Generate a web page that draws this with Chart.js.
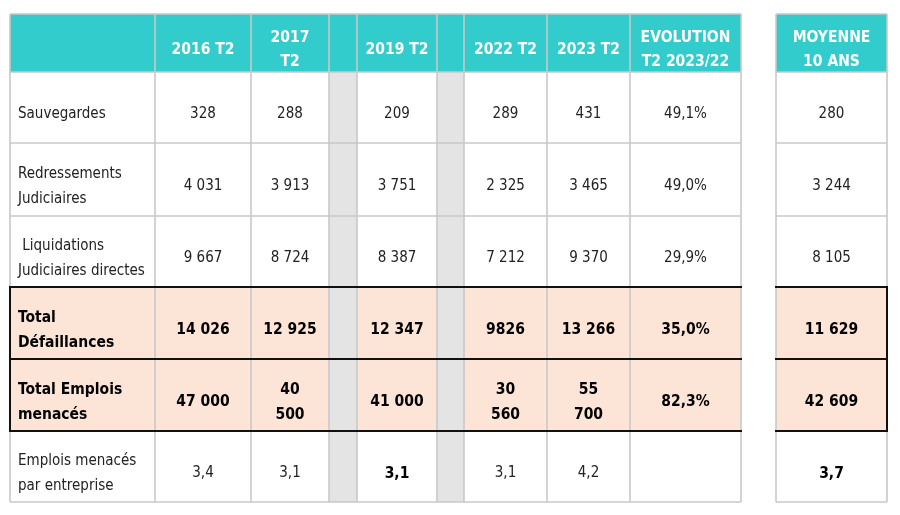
<!DOCTYPE html>
<html>
<head>
<meta charset="utf-8">
<script src="https://cdn.jsdelivr.net/npm/chart.js@4"></script>
<style>
  body { margin: 0; background: #fff; }
  canvas { display: block; }
</style>
</head>
<body>
<canvas id="table-chart" width="900" height="515"></canvas>
<script>
// column headers (the gap columns have no header)
var periods = ['2016 T2', '2017\nT2', '2019 T2', '2022 T2', '2023 T2'];
var evolutionHeader = 'EVOLUTION\nT2 2023/22';
var averageHeader = 'MOYENNE\n10 ANS';

var rowLabels = [
  'Sauvegardes',
  'Redressements\nJudiciaires',
  ' Liquidations\nJudiciaires directes',
  'Total\nDéfaillances',
  'Total Emplois\nmenacés',
  'Emplois menacés\npar entreprise'
];

// values per row, one per period
var sauvegardes = ['328', '288', '209', '289', '431'];
var redressements = ['4 031', '3 913', '3 751', '2 325', '3 465'];
var liquidations = ['9 667', '8 724', '8 387', '7 212', '9 370'];
var totalDefaillances = ['14 026', '12 925', '12 347', '9826', '13 266'];
var totalEmplois = ['47 000', '40\n500', '41 000', '30\n560', '55\n700'];
var emploisParEntreprise = ['3,4', '3,1', '3,1', '3,1', '4,2'];

var evolution = ['49,1%', '49,0%', '29,9%', '35,0%', '82,3%', ''];
var moyenne = ['280', '3 244', '8 105', '11 629', '42 609', '3,7'];

var rowValues = [sauvegardes, redressements, liquidations, totalDefaillances, totalEmplois, emploisParEntreprise];

// layout (in scale units, same as pixels here)
var colEdges = [10, 155, 251, 329, 357, 437, 464, 547, 630, 741];
var gapCols = [3, 5];               // index of the grey spacer columns
var periodCols = [1, 2, 4, 6, 7];   // where the periods go
var evoCol = 8;
var avgEdges = [776, 887];
var rowEdges = [14, 72, 143, 216, 287, 359, 431, 502];
var pinkRows = [3, 4];
var boldCells = { '5-2': true, '5-avg': true };

var TEAL = '#33cccc';
var PINK = '#fce4d6';
var GAP = '#e5e4e5';
var GRID = '#c8c8c8';
var FONT = '"DejaVu Sans Condensed", "DejaVu Sans", Verdana, sans-serif';
var REG = 15, BOLD = 15.5;

var tablePlugin = {
  id: 'tablePlugin',
  afterDraw: function(chart) {
    var ctx = chart.ctx;
    var sx = chart.scales.x, sy = chart.scales.y;
    var X = function(v) { return sx.getPixelForValue(v); };
    var Y = function(v) { return sy.getPixelForValue(v); };

    function fillCell(x0, x1, y0, y1, color) {
      ctx.fillStyle = color;
      ctx.fillRect(X(x0), Y(y0), X(x1) - X(x0), Y(y1) - Y(y0));
    }
    function line(x0, y0, x1, y1, color, w) {
      ctx.strokeStyle = color;
      ctx.lineWidth = w;
      ctx.beginPath();
      ctx.moveTo(X(x0), Y(y0));
      ctx.lineTo(X(x1), Y(y1));
      ctx.stroke();
    }
    function text(str, x0, x1, y0, y1, opts) {
      var lines = str.split('\n');
      var lh = opts.lh || 25;
      ctx.font = (opts.bold ? 'bold ' : '') + opts.size + 'px ' + FONT;
      ctx.fillStyle = opts.color || '#1e1e1e';
      ctx.textBaseline = 'middle';
      ctx.textAlign = opts.align || 'center';
      var cy = (Y(y0) + Y(y1)) / 2 + 7 - (lines.length - 1) * lh / 2;
      var tx = opts.align === 'left' ? X(x0) + 8 : (X(x0) + X(x1)) / 2;
      lines.forEach(function(l, i) { ctx.fillText(l, tx, cy + i * lh); });
    }

    var nRows = rowEdges.length - 1;
    // fills
    for (var r = 0; r < nRows; r++) {
      var y0 = rowEdges[r], y1 = rowEdges[r + 1];
      for (var c = 0; c < colEdges.length - 1; c++) {
        var col;
        if (r === 0) col = TEAL;
        else if (gapCols.indexOf(c) >= 0) col = GAP;
        else if (pinkRows.indexOf(r - 1) >= 0) col = PINK;
        else col = '#fff';
        fillCell(colEdges[c], colEdges[c + 1], y0, y1, col);
      }
      var acol = r === 0 ? TEAL : (pinkRows.indexOf(r - 1) >= 0 ? PINK : '#fff');
      fillCell(avgEdges[0], avgEdges[1], y0, y1, acol);
    }

    // grey grid
    var top = rowEdges[0], bot = rowEdges[nRows];
    colEdges.forEach(function(x) { line(x, top, x, bot, GRID, 1.6); });
    avgEdges.forEach(function(x) { line(x, top, x, bot, GRID, 1.6); });
    rowEdges.forEach(function(y) {
      line(colEdges[0], y, colEdges[colEdges.length - 1], y, GRID, 1.6);
      line(avgEdges[0], y, avgEdges[1], y, GRID, 1.6);
    });

    // black frame round the total rows
    var pt = rowEdges[pinkRows[0] + 1], pb = rowEdges[pinkRows[pinkRows.length - 1] + 2];
    for (var k = pinkRows[0] + 1; k <= pinkRows[pinkRows.length - 1] + 2; k++) {
      line(colEdges[0] - 1, rowEdges[k], colEdges[colEdges.length - 1] + 1, rowEdges[k], '#111', 2);
      line(avgEdges[0] - 1, rowEdges[k], avgEdges[1] + 1, rowEdges[k], '#111', 2);
    }
    line(colEdges[0], pt, colEdges[0], pb, '#111', 2);
    line(avgEdges[1], pt, avgEdges[1], pb, '#111', 2);

    // header text
    var hy0 = rowEdges[0], hy1 = rowEdges[1];
    var hopts = { bold: true, size: BOLD, color: '#fff', lh: 24.5 };
    periods.forEach(function(p, i) {
      var c = periodCols[i];
      text(p, colEdges[c], colEdges[c + 1], hy0, hy1, hopts);
    });
    text(evolutionHeader, colEdges[evoCol], colEdges[evoCol + 1], hy0, hy1, hopts);
    text(averageHeader, avgEdges[0], avgEdges[1], hy0, hy1, hopts);

    // body
    rowLabels.forEach(function(label, r) {
      var y0 = rowEdges[r + 1], y1 = rowEdges[r + 2];
      var isTotal = pinkRows.indexOf(r) >= 0;
      var st = function(b) { return { bold: b, size: b ? BOLD : REG, color: b ? '#000' : '#222' }; };
      var lo = st(isTotal); lo.align = 'left';
      text(label, colEdges[0], colEdges[1], y0, y1, lo);
      rowValues[r].forEach(function(v, i) {
        var c = periodCols[i];
        text(v, colEdges[c], colEdges[c + 1], y0, y1, st(isTotal || !!boldCells[r + '-' + i]));
      });
      if (evolution[r]) {
        text(evolution[r], colEdges[evoCol], colEdges[evoCol + 1], y0, y1, st(isTotal));
      }
      text(moyenne[r], avgEdges[0], avgEdges[1], y0, y1, st(isTotal || !!boldCells[r + '-avg']));
    });
  }
};

var ctx = document.getElementById('table-chart').getContext('2d');
new Chart(ctx, {
  type: 'scatter',
  data: { datasets: [] },
  options: {
    responsive: false,
    animation: false,
    layout: { padding: 0 },
    plugins: { legend: { display: false }, tooltip: { enabled: false } },
    scales: {
      x: { type: 'linear', min: 0, max: 900, display: false },
      y: { type: 'linear', min: 0, max: 515, reverse: true, display: false }
    }
  },
  plugins: [tablePlugin]
});
</script>
</body>
</html>
